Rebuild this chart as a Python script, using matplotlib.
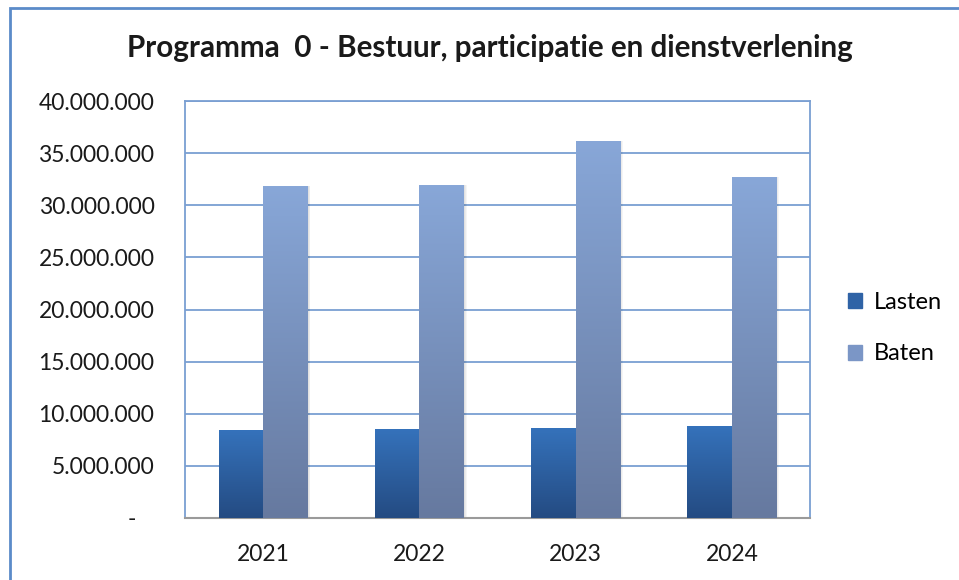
import numpy as np
import matplotlib.pyplot as plt
import matplotlib.patches as mpatches
from matplotlib.colors import LinearSegmentedColormap
from matplotlib.ticker import FuncFormatter

years = ['2021', '2022', '2023', '2024']
lasten = [8400000, 8500000, 8600000, 8800000]
baten = [31800000, 31900000, 36200000, 32700000]

plt.rcParams['font.family'] = ['Lato', 'DejaVu Sans']

fig = plt.figure(figsize=(9.59, 5.8), dpi=100)
W, H = 959, 580
ax = fig.add_axes([185 / W, 1 - 518 / H, 625 / W, 417 / H])

# chart border (cut off on right and bottom like the screenshot)
fig.patches.append(mpatches.Rectangle((10 / W, -0.05), 1.2, 1 - 8 / H + 0.05,
                                      transform=fig.transFigure, fill=False,
                                      edgecolor='#5b8bc9', linewidth=2))

x = np.arange(len(years))
bw = 0.285
grad_l = LinearSegmentedColormap.from_list('l', ['#244b82', '#3572bb'])
grad_b = LinearSegmentedColormap.from_list('b', ['#66799f', '#88a7d8'])
grad = np.linspace(0, 1, 256).reshape(-1, 1)

def gradient_bars(xs, vals, cmap, label):
    bars = ax.bar(xs, vals, bw, color='none', edgecolor='none', label=label, zorder=3)
    for b in bars:
        bx, by = b.get_x(), b.get_y()
        w, h = b.get_width(), b.get_height()
        # soft shadow
        for k in range(1, 4):
            ax.add_patch(mpatches.Rectangle((bx + 0.006 * k, by), w, h, facecolor='#000000',
                                            alpha=0.04, edgecolor='none', zorder=2))
        im = ax.imshow(grad, extent=[bx, bx + w, by, by + h], origin='lower',
                       cmap=cmap, aspect='auto', zorder=3)
        im.set_clip_path(b)
    return bars

gradient_bars(x - bw / 2, lasten, grad_l, 'Lasten')
gradient_bars(x + bw / 2, baten, grad_b, 'Baten')

ax.set_xlim(-0.5, 3.5)
ax.set_ylim(0, 40000000)
ax.set_yticks(np.arange(0, 40000001, 5000000))
ax.yaxis.set_major_formatter(FuncFormatter(
    lambda v, p: '-   ' if v == 0 else f'{int(v):,}'.replace(',', '.')))
ax.set_xticks(x)
ax.set_xticklabels(years)
ax.grid(axis='y', color='#7a9fd2', linewidth=1.3, zorder=0)
ax.set_axisbelow(True)
for s in ['left', 'top', 'right']:
    ax.spines[s].set_color('#7a9fd2')
    ax.spines[s].set_linewidth(1.3)
ax.spines['bottom'].set_color('#9a9a9a')
ax.spines['bottom'].set_linewidth(1.5)
ax.tick_params(axis='both', length=0, labelsize=16.5, colors='#1a1a1a')
ax.tick_params(axis='y', pad=22)
ax.tick_params(axis='x', pad=19)

fig.text(490 / W, 1 - 48 / H, 'Programma  0 - Bestuur, participatie en dienstverlening',
         ha='center', va='center', fontsize=21.3, fontweight='bold', color='#1a1a1a')

handles = [mpatches.Patch(color='#2f63a6', label='Lasten'),
           mpatches.Patch(color='#7b96c6', label='Baten')]
fig.legend(handles=handles, loc='center left', bbox_to_anchor=(827 / W, 1 - 328 / H),
           frameon=False, fontsize=17, handlelength=0.6, handleheight=0.6,
           handletextpad=0.5, labelspacing=1.3)

fig.savefig('out.png', dpi=100)
